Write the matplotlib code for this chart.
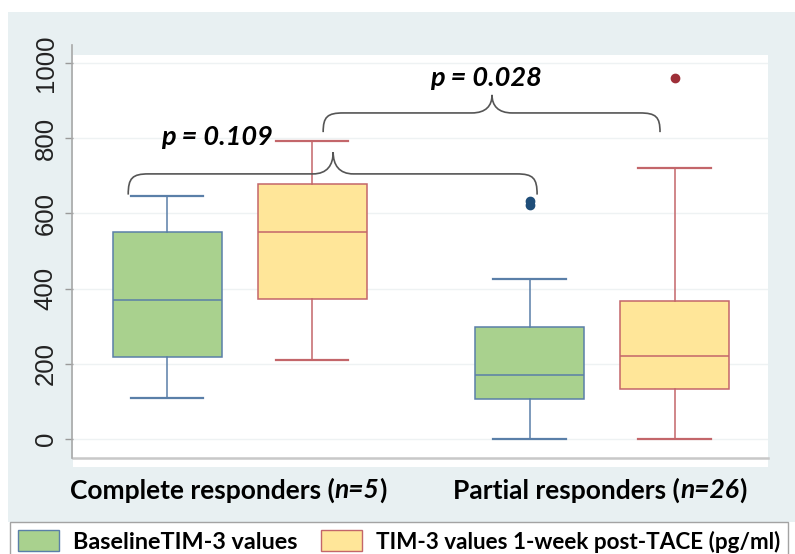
import matplotlib
matplotlib.use("Agg")
import matplotlib.pyplot as plt
from matplotlib.patches import Rectangle, Patch, PathPatch
from matplotlib.path import Path
from matplotlib.lines import Line2D
from matplotlib.offsetbox import TextArea, HPacker, AnnotationBbox

# data (pg/ml)
groups = ["Complete responders", "Partial responders"]
group_n = ["n=5", "n=26"]
series_labels = ["BaselineTIM-3 values", "TIM-3 values 1-week post-TACE (pg/ml)"]

base_whislo = [109, 0]
base_q1 = [218, 106]
base_med = [370, 170]
base_q3 = [551, 298]
base_whishi = [646, 425]
base_fliers = [[], [622, 632]]

post_whislo = [210, 0]
post_q1 = [372, 133]
post_med = [550, 221]
post_q3 = [678, 367]
post_whishi = [793, 720]
post_fliers = [[], [960]]

p_labels = ["p = 0.109", "p = 0.028"]
yticks = [0, 200, 400, 600, 800, 1000]

green, green_edge = "#a9d18e", "#5a7fa8"
yellow, yellow_edge = "#ffe699", "#c3666a"
panel = "#e8f0f2"
FONT = "Lato"

fig = plt.figure(figsize=(7.95, 5.54), dpi=100)
fig.patch.set_facecolor("white")
W, H = 795.0, 554.0

def fx(px):
    return px / W

def fy(py):
    return 1 - py / H

# grey panel behind everything
fig.add_artist(Rectangle((fx(8), fy(522)), 1, fy(12) - fy(522), transform=fig.transFigure,
                         facecolor=panel, edgecolor="none", zorder=-10))
# white strip under the plot area
fig.add_artist(Rectangle((fx(73), fy(467)), fx(768) - fx(73), fy(55) - fy(467),
                         transform=fig.transFigure, facecolor="white", edgecolor="none", zorder=-9))

ax = fig.add_axes([fx(73), fy(458), fx(768) - fx(73), fy(55) - fy(458)])
ax.set_facecolor("white")

def stats(whislo, q1, med, q3, whishi, fliers, i):
    return dict(whislo=whislo[i], q1=q1[i], med=med[i], q3=q3[i], whishi=whishi[i], fliers=fliers[i])

pos_base = [1, 3.5]
pos_post = [2, 4.5]
for i in range(2):
    for st, pos, fc, ec, fl in [
        (stats(base_whislo, base_q1, base_med, base_q3, base_whishi, base_fliers, i), pos_base[i], green, green_edge, "#1f4e79"),
        (stats(post_whislo, post_q1, post_med, post_q3, post_whishi, post_fliers, i), pos_post[i], yellow, yellow_edge, "#9e2f38"),
    ]:
        ax.bxp([st], positions=[pos], widths=0.75, capwidths=0.5, patch_artist=True,
               boxprops=dict(facecolor=fc, edgecolor=ec, linewidth=1.1),
               medianprops=dict(color=ec, linewidth=1.1),
               whiskerprops=dict(color=ec, linewidth=1.1),
               capprops=dict(color=ec, linewidth=1.6),
               flierprops=dict(marker="o", markerfacecolor=fl, markeredgecolor=fl, markersize=6))

ax.set_xlim(0.35, 5.145)
ax.set_ylim(-50, 1021)
ax.set_yticks(yticks)
ax.set_yticklabels([str(v) for v in yticks], rotation=90, va="center",
                   fontsize=18.5, family="Liberation Sans", color="#222222")
ax.set_xticks([])
ax.tick_params(axis="y", length=6, width=1, color="#9a9a9a", pad=5)
ax.grid(axis="y", color="#eef2f3", linewidth=1)
ax.set_axisbelow(True)
for s in ["top", "right", "left"]:
    ax.spines[s].set_visible(False)
ax.spines["bottom"].set_color("#c8c8c8")
ax.spines["bottom"].set_linewidth(1.8)
# left axis line running a bit above the plot area
fig.add_artist(Line2D([fx(72), fx(72)], [fy(458), fy(45)], transform=fig.transFigure,
                      color="#a8a8a8", linewidth=1.2))


def brace(x0, x1, xm, y_end, y_lvl, y_tip, r=0.14, r2=0.14):
    verts = [
        (x0, y_end),
        (x0, y_end + 0.8 * (y_lvl - y_end)), (x0 + 0.2 * r, y_lvl), (x0 + r, y_lvl),
        (xm - r2, y_lvl),
        (xm - 0.3 * r2, y_lvl), (xm, y_lvl + 0.4 * (y_tip - y_lvl)), (xm, y_tip),
        (xm, y_lvl + 0.4 * (y_tip - y_lvl)), (xm + 0.3 * r2, y_lvl), (xm + r2, y_lvl),
        (x1 - r, y_lvl),
        (x1 - 0.2 * r, y_lvl), (x1, y_end + 0.8 * (y_lvl - y_end)), (x1, y_end),
    ]
    codes = [Path.MOVETO, Path.CURVE4, Path.CURVE4, Path.CURVE4, Path.LINETO,
             Path.CURVE4, Path.CURVE4, Path.CURVE4, Path.CURVE4, Path.CURVE4, Path.CURVE4,
             Path.LINETO, Path.CURVE4, Path.CURVE4, Path.CURVE4]
    ax.add_patch(PathPatch(Path(verts, codes), facecolor="none", edgecolor="#555555",
                           linewidth=1.2, zorder=5, clip_on=False))


brace(0.731, 3.552, 2.145, 650, 705, 763)
brace(2.076, 4.40, 3.241, 816, 867, 915)

ax.text(1.345, 803, p_labels[0], fontsize=19.5, fontweight="bold", fontstyle="italic",
        family=FONT, ha="center", va="center")
ax.text(3.20, 961, p_labels[1], fontsize=19.5, fontweight="bold", fontstyle="italic",
        family=FONT, ha="center", va="center")

# group labels under the axis, with the n in italics
for g, n, cx in zip(groups, group_n, [228, 600]):
    parts = [TextArea(g + " (", textprops=dict(fontsize=19, fontweight="bold", family=FONT)),
             TextArea(n, textprops=dict(fontsize=19, fontweight="bold", fontstyle="italic", family=FONT)),
             TextArea(")", textprops=dict(fontsize=19, fontweight="bold", family=FONT))]
    box = HPacker(children=parts, pad=0, sep=0, align="baseline")
    ab = AnnotationBbox(box, (fx(cx), fy(490)), xycoords="figure fraction",
                        frameon=False, box_alignment=(0.5, 0.5), pad=0)
    fig.add_artist(ab)

handles = [Patch(facecolor=green, edgecolor=green_edge, linewidth=1),
           Patch(facecolor=yellow, edgecolor=yellow_edge, linewidth=1)]
leg = fig.legend(handles, series_labels, ncol=2, loc="upper left",
                 bbox_to_anchor=(fx(10), fy(522)), frameon=True, fancybox=False,
                 borderaxespad=0, handlelength=1.75, handleheight=1.0, handletextpad=0.6,
                 columnspacing=1.0, borderpad=0.35, prop=dict(family=FONT, weight="bold", size=16.8))
leg.get_texts()[1].set_fontsize(16.2)
leg.get_frame().set_edgecolor("#8c8c8c")
leg.get_frame().set_linewidth(1)

fig.savefig("out.png", dpi=100)
